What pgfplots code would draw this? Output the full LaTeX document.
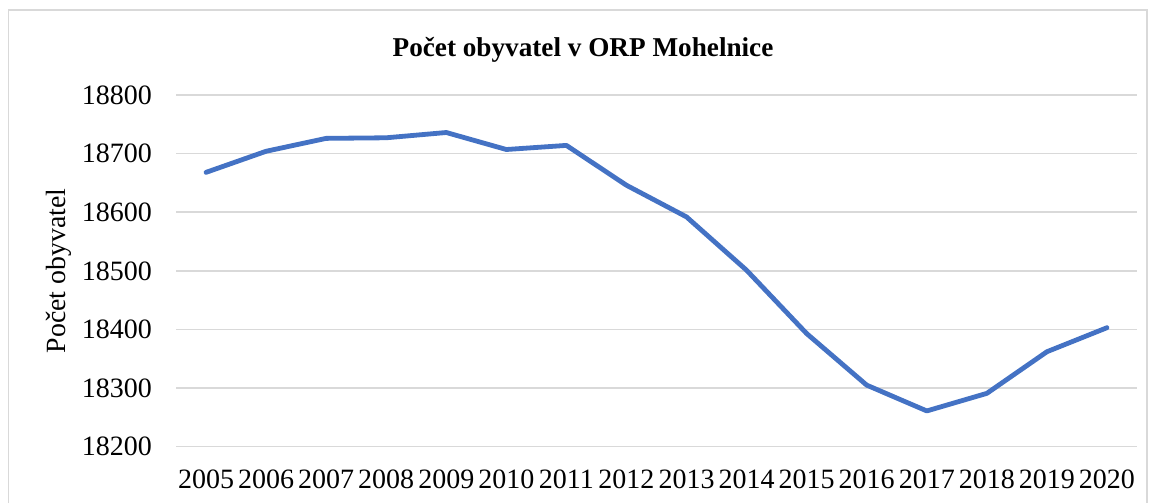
\documentclass[border=0pt]{standalone}
\usepackage{fontspec}
\setmainfont{Liberation Serif}
\usepackage{pgfplots}
\pgfplotsset{compat=1.18}
\definecolor{lineblue}{HTML}{4472C4}
\definecolor{gridgray}{HTML}{D9D9D9}
\begin{document}
\begin{tikzpicture}[x=1pt,y=1pt]
\useasboundingbox (0,0) rectangle (1155,503);
\fill[white] (0,0) rectangle (1155,503);
\draw[gridgray, line width=1.5pt] (8.3,0) -- (8.3,493) -- (1147,493) -- (1147,0);
\node[font=\fontsize{27.2}{30}\selectfont\bfseries, anchor=base] at (583,446) {Počet obyvatel v ORP Mohelnice};
\begin{axis}[
  at={(176pt,56.3pt)}, anchor=south west,
  scale only axis, width=961pt, height=351.7pt,
  xmin=-0.5, xmax=15.5, ymin=18200, ymax=18800,
  xtick={0,...,15},
  xticklabels={2005,2006,2007,2008,2009,2010,2011,2012,2013,2014,2015,2016,2017,2018,2019,2020},
  ytick={18200,18300,18400,18500,18600,18700,18800},
  scaled y ticks=false,
  /pgf/number format/1000 sep={},
  /pgf/number format/fixed,
  /pgf/number format/assume math mode=true,
  major tick length=0pt,
  axis line style={draw=none},
  ymajorgrids, major grid style={gridgray, line width=1.5pt},
  ticklabel style={font=\fontsize{28}{30}\selectfont, inner sep=0pt},
  yticklabel style={xshift=-24pt},
  xticklabel style={yshift=-23pt},
  ylabel={Počet obyvatel},
  ylabel style={at={(axis description cs:0,0.5)}, anchor=center, yshift=117pt, font=\fontsize{27.8}{30}\selectfont},
  clip=false,
]
\addplot[lineblue, line width=4.8pt, line join=round, line cap=round] coordinates {
(0,18668) (1,18704) (2,18726) (3,18727) (4,18736) (5,18707) (6,18714) (7,18646)
(8,18592) (9,18501) (10,18393) (11,18305) (12,18261) (13,18291) (14,18362) (15,18403)
};
\end{axis}
\end{tikzpicture}
\end{document}
